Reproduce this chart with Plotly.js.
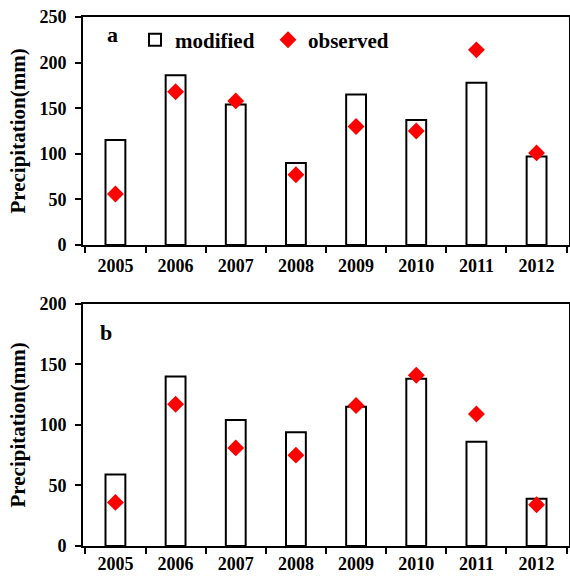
<!DOCTYPE html>
<html>
<head>
<meta charset="utf-8">
<script src="https://cdn.plot.ly/plotly-3.0.1.min.js"></script>
<style>html,body{margin:0;padding:0;background:#fff;}#chart{width:570px;height:577px;}</style>
</head>
<body>
<div id="chart"></div>
<script>
// Data
const years = ["2005","2006","2007","2008","2009","2010","2011","2012"];
const modifiedA = [115, 186, 154, 90, 165, 137, 178, 97];
const observedA = [56, 168, 158, 77, 130, 125, 214, 101];
const modifiedB = [59, 140, 104, 94, 115, 138, 86, 39];
const observedB = [36, 117, 81, 75, 116, 141, 109, 34];
const yTicksA = [0, 50, 100, 150, 200, 250];
const yTicksB = [0, 50, 100, 150, 200];

const FONT = "Liberation Serif, Times New Roman, serif";
const barStyle = {color: "#ffffff", line: {color: "#000000", width: 2}};
const diamond = {symbol: "diamond", color: "#ff0000", size: 13};

const traces = [
  {type: "bar", x: years, y: modifiedA, name: "modified", width: 0.33,
   marker: barStyle, xaxis: "x", yaxis: "y", showlegend: true},
  {type: "scatter", mode: "markers", x: years, y: observedA, name: "observed",
   marker: diamond, xaxis: "x", yaxis: "y", showlegend: true},
  {type: "bar", x: years, y: modifiedB, name: "modified", width: 0.33,
   marker: barStyle, xaxis: "x2", yaxis: "y2", showlegend: false},
  {type: "scatter", mode: "markers", x: years, y: observedB, name: "observed",
   marker: diamond, xaxis: "x2", yaxis: "y2", showlegend: false}
];

function xAxis(anchor, standoff) {
  return {
    anchor: anchor, type: "category", tickson: "boundaries",
    showline: true, mirror: true, linecolor: "#000", linewidth: 2,
    ticks: "outside", ticklen: 6, tickwidth: 2, tickcolor: "#000",
    ticklabelstandoff: standoff,
    showgrid: false, zeroline: false,
    tickfont: {family: FONT, size: 18, color: "#000", weight: "bold"}
  };
}
function yAxis(anchor, domain, range, ticks) {
  return {
    anchor: anchor, domain: domain, range: range,
    tickmode: "array", tickvals: ticks, ticktext: ticks.map(String),
    showline: true, mirror: true, linecolor: "#000", linewidth: 2,
    ticks: "outside", ticklen: 6, tickwidth: 2, tickcolor: "#000",
    ticklabelstandoff: 5,
    showgrid: false, zeroline: false,
    tickfont: {family: FONT, size: 18, color: "#000", weight: "bold"},
    title: {text: "Precipitation(mm)", standoff: 8,
            font: {family: FONT, size: 21, color: "#000", weight: "bold"}}
  };
}

const layout = {
  width: 570, height: 577,
  margin: {l: 83, r: 1, t: 17, b: 31},
  paper_bgcolor: "#fff", plot_bgcolor: "#fff",
  showlegend: true,
  legend: {orientation: "h", x: 0.107, xanchor: "left", y: 0.995, yanchor: "top",
           bgcolor: "rgba(0,0,0,0)", entrywidth: 88,
           font: {family: FONT, size: 21, color: "#000", weight: "bold"}},
  xaxis: xAxis("y", 3),
  yaxis: yAxis("x", [0.569, 1], [0, 250], yTicksA),
  xaxis2: xAxis("y2", 0),
  yaxis2: yAxis("x2", [0, 0.458], [0, 200], yTicksB),
  annotations: [
    {text: "a", xref: "paper", yref: "paper", x: 0.06, y: 0.966, showarrow: false,
     xanchor: "center", yanchor: "middle",
     font: {family: FONT, size: 22, color: "#000", weight: "bold"}},
    {text: "b", xref: "paper", yref: "paper", x: 0.048, y: 0.403, showarrow: false,
     xanchor: "center", yanchor: "middle",
     font: {family: FONT, size: 22, color: "#000", weight: "bold"}}
  ]
};

Plotly.newPlot("chart", traces, layout, {displayModeBar: false, responsive: false});
</script>
</body>
</html>
